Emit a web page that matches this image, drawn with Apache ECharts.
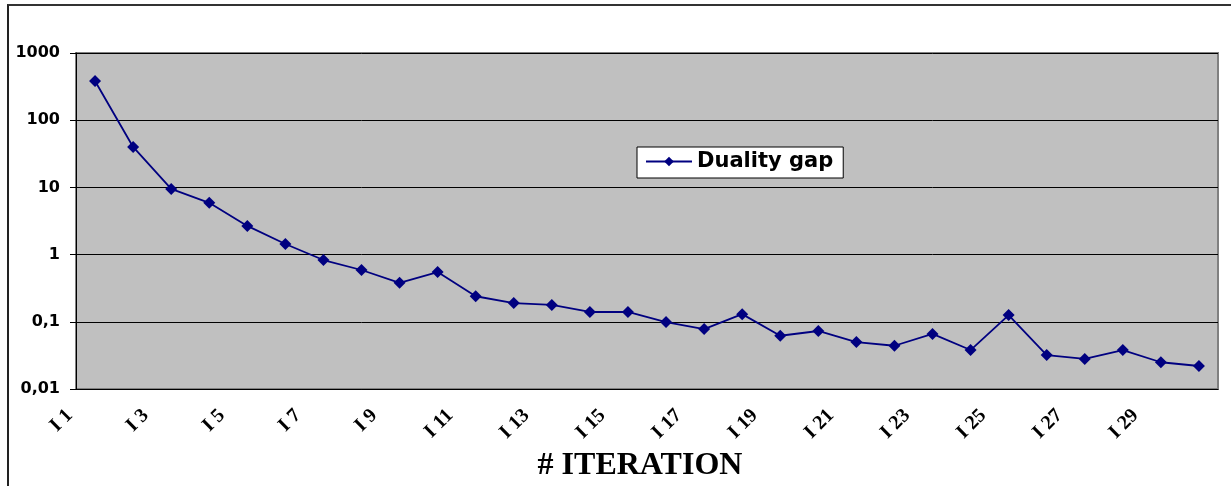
<!DOCTYPE html>
<html>
<head>
<meta charset="utf-8">
<script src="https://cdn.jsdelivr.net/npm/echarts@6/dist/echarts.min.js"></script>
<style>
  body { margin: 0; background: #fff; }
  #frame { position: absolute; left: 7px; top: 4px; width: 1224px; height: 482px;
           border-top: 2px solid #333; border-left: 2px solid #222; }
  #chart { position: absolute; left: 0; top: 0; width: 1231px; height: 486px; }
</style>
</head>
<body>
<div id="frame"></div>
<div id="chart"></div>
<script>
  // iterations I 1 .. I 30
  const iterations = ['I 1','I 2','I 3','I 4','I 5','I 6','I 7','I 8','I 9','I 10',
    'I 11','I 12','I 13','I 14','I 15','I 16','I 17','I 18','I 19','I 20',
    'I 21','I 22','I 23','I 24','I 25','I 26','I 27','I 28','I 29','I 30'];
  // duality gap per iteration (log scale)
  const dualityGap = [383, 40, 9.5, 5.9, 2.67, 1.44, 0.83, 0.59, 0.38, 0.55,
    0.24, 0.19, 0.178, 0.14, 0.14, 0.099, 0.078, 0.13, 0.062, 0.073,
    0.050, 0.044, 0.066, 0.038, 0.126, 0.032, 0.028, 0.038, 0.025, 0.022];

  const chart = echarts.init(document.getElementById('chart'));
  const option = {
    animation: false,
    legend: {
      data: ['Duality gap'],
      left: 637,
      top: 147,
      backgroundColor: '#fff',
      borderColor: '#000',
      borderWidth: 1,
      padding: [4, 10, 6, 8],
      itemWidth: 46,
      itemHeight: 12,
      itemGap: 2,
      textStyle: { fontFamily: 'DejaVu Sans', fontWeight: 'bold', fontSize: 21, color: '#000' }
    },
    grid: {
      left: 76, right: 13, top: 53, bottom: 97,
      outerBoundsMode: 'none',
      show: true,
      backgroundColor: '#c0c0c0',
      borderColor: '#808080',
      borderWidth: 2
    },
    xAxis: {
      type: 'category',
      data: iterations,
      boundaryGap: true,
      name: '# ITERATION',
      nameLocation: 'middle',
      nameGap: 61,
      nameTextStyle: { fontFamily: 'Liberation Serif', fontWeight: 'bold', fontSize: 32, color: '#000',
                       padding: [0, 14, 0, 0] },
      axisLine: { lineStyle: { color: '#000', width: 1 } },
      axisTick: { interval: 0, length: 6, lineStyle: { color: '#000' } },
      axisLabel: {
        interval: 1,
        rotate: 45,
        margin: -2,
        padding: [0, 36, 0, 0],
        fontFamily: 'Liberation Serif',
        fontWeight: 'bold',
        fontSize: 20,
        color: '#000'
      },
      splitLine: { show: false }
    },
    yAxis: {
      type: 'log',
      logBase: 10,
      min: 0.01,
      max: 1000,
      axisLine: { show: true, lineStyle: { color: '#000', width: 1 } },
      axisTick: { show: true, length: 6, lineStyle: { color: '#000' } },
      axisLabel: {
        margin: 16,
        fontFamily: 'DejaVu Sans',
        fontWeight: 'bold',
        fontSize: 16,
        color: '#000',
        formatter: v => String(v).replace('.', ',')
      },
      splitLine: { lineStyle: { color: '#000', width: 1 } }
    },
    series: [{
      name: 'Duality gap',
      type: 'line',
      data: dualityGap,
      symbol: 'diamond',
      symbolSize: 12,
      itemStyle: { color: '#000080' },
      lineStyle: { color: '#000080', width: 1.8 }
    }]
  };
  chart.setOption(option);
</script>
</body>
</html>
